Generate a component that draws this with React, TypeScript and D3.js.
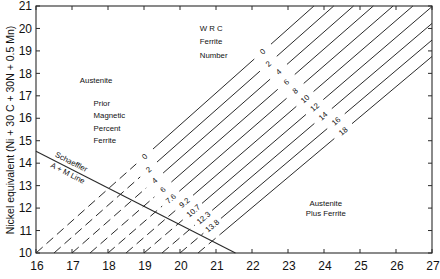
import React from "react";
import * as d3 from "d3";

// ---- data ----
const xTicks = [16, 17, 18, 19, 20, 21, 22, 23, 24, 25, 26, 27];
const yTicks = [10, 11, 12, 13, 14, 15, 16, 17, 18, 19, 20, 21];
// WRC ferrite number iso-lines
const wrcFN = ["0", "2", "4", "6", "8", "10", "12", "14", "16", "18"];
// prior magnetic percent ferrite labels (lower, dashed part)
const priorPercent = ["0", "2", "4", "6", "7.6", "9.2", "10.7", "12.3", "13.8", ""];
// Cr equivalent where each iso-line meets Ni eq = 10 and Ni eq = 21
const crAtNi10 = [16, 16.5, 17, 17.5, 18, 18.5, 19, 19.5, 20, 20.5];
const crAtNi21 = [23.72, 24.27, 24.82, 25.37, 25.92, 26.47, 27.02, 27.57, 28.12, 28.67];
// Ni eq at which the labels sit on each line
const upperLabelNi = [18.97, 18.43, 18.07, 17.62, 17.22, 16.86, 16.5, 16.1, 15.87, 15.43];
const lowerLabelNi = [14.3, 13.72, 13.23, 12.83, 12.42, 12.24, 11.88, 11.57, 11.21, 10.85];
// Schaeffler A + M line
const schaefflerCr = [16, 21.54];
const schaefflerNi = [14.53, 10];
// region captions
const leftCaption = ["Prior", "Magnetic", "Percent", "Ferrite"];
const wrcCaption = ["W R C", "Ferrite", "Number"];
const rightCaption = ["Austenite", "Plus Ferrite"];

const W = 440;
const H = 279;
const FONT = "'Liberation Sans', Arial, Helvetica, sans-serif";

export default function App() {
  const x = d3.scaleLinear().domain([16, 27]).range([36, 432]);
  const y = d3.scaleLinear().domain([10, 21]).range([253, 6]);
  const line = d3
    .line<[number, number]>()
    .x((d) => x(d[0]))
    .y((d) => y(d[1]));

  const ink = "#2a2a2a";
  const gapNi = 0.33;

  const isoLines = wrcFN.map((fn, i) => {
    const c0 = crAtNi10[i];
    const c1 = crAtNi21[i];
    const crOf = (ni: number) => c0 + ((ni - 10) * (c1 - c0)) / 11;
    const niOf = (cr: number) => 10 + ((cr - c0) * 11) / (c1 - c0);
    const endNi = c1 > 27 ? niOf(27) : 21;
    const lo = lowerLabelNi[i];
    const up = upperLabelNi[i];
    const hasLow = priorPercent[i] !== "";
    const lg = hasLow ? gapNi : 0;
    const dashed: [number, number][] = [
      [crOf(10), 10],
      [crOf(lo - lg), lo - lg],
    ];
    const solid1: [number, number][] = [
      [crOf(lo + lg), lo + lg],
      [crOf(up - gapNi), up - gapNi],
    ];
    const solid2: [number, number][] = [
      [crOf(up + gapNi), up + gapNi],
      [crOf(endNi), endNi],
    ];
    const angle = (Math.atan2(y(21) - y(10), x(c1) - x(c0)) * 180) / Math.PI;
    return {
      fn,
      pct: priorPercent[i],
      dashed,
      solid1,
      solid2,
      upPos: [x(crOf(up)), y(up)],
      loPos: [x(crOf(lo)), y(lo)],
      angle,
    };
  });

  const schPts: [number, number][] = schaefflerCr.map((c, i) => [c, schaefflerNi[i]]);
  const schAngle =
    (Math.atan2(y(schaefflerNi[1]) - y(schaefflerNi[0]), x(schaefflerCr[1]) - x(schaefflerCr[0])) * 180) /
    Math.PI;

  const x0 = x(16), x1 = x(27), y0 = y(10), y1 = y(21);
  const tl = 4;
  const small = 7.8;

  return (
    <svg
      width={W}
      height={H}
      style={{ position: "absolute", left: 0, top: 0, background: "#fff" }}
      fontFamily={FONT}
    >
      <rect x={0} y={0} width={W} height={H} fill="#fff" />
      {/* frame */}
      <rect x={x0} y={y1} width={x1 - x0} height={y0 - y1} fill="none" stroke={ink} strokeWidth={1.1} />
      {/* ticks */}
      {xTicks.map((t) => (
        <g key={"xt" + t}>
          <line x1={x(t)} x2={x(t)} y1={y0} y2={y0 - tl} stroke={ink} />
          <line x1={x(t)} x2={x(t)} y1={y1} y2={y1 + tl} stroke={ink} />
          <text x={x(t) + 1} y={y0 + 17} textAnchor="middle" fontSize={12} fill="#111">
            {t}
          </text>
        </g>
      ))}
      {yTicks.map((t) => (
        <g key={"yt" + t}>
          <line x1={x0} x2={x0 + tl} y1={y(t)} y2={y(t)} stroke={ink} />
          <line x1={x1} x2={x1 - tl} y1={y(t)} y2={y(t)} stroke={ink} />
          <text x={x0 - 4} y={y(t)} dy="0.35em" textAnchor="end" fontSize={12} fill="#111">
            {t}
          </text>
        </g>
      ))}
      <text
        transform={`translate(10,130) rotate(-90)`}
        textAnchor="middle"
        dy="0.35em"
        fontSize={10.5}
        fill="#111"
      >
        Nickel equivalent (Ni + 30 C + 30N + 0.5 Mn)
      </text>

      {/* iso-ferrite lines */}
      {isoLines.map((l, i) => (
        <g key={"iso" + i}>
          <path d={line(l.dashed) || ""} fill="none" stroke={ink} strokeWidth={1} strokeDasharray="9,5" />
          <path d={line(l.solid1) || ""} fill="none" stroke={ink} strokeWidth={1} />
          <path d={line(l.solid2) || ""} fill="none" stroke={ink} strokeWidth={1} />
          <text
            transform={`translate(${l.upPos[0]},${l.upPos[1]}) rotate(${l.angle})`}
            textAnchor="middle"
            dy="0.35em"
            fontSize={small}
            fill="#111"
          >
            {l.fn}
          </text>
          {l.pct !== "" && (
            <text
              transform={`translate(${l.loPos[0]},${l.loPos[1]}) rotate(${l.angle})`}
              textAnchor="middle"
              dy="0.35em"
              fontSize={small}
              fill="#111"
            >
              {l.pct}
            </text>
          )}
        </g>
      ))}

      {/* Schaeffler line */}
      <path d={line(schPts) || ""} fill="none" stroke={ink} strokeWidth={1.1} />
      <text
        transform={`translate(${x(16.95)},${y(13.95)}) rotate(${schAngle})`}
        textAnchor="middle"
        fontSize={small}
        fill="#111"
      >
        Schaeffler
      </text>
      <text
        transform={`translate(${x(16.85)},${y(13.45)}) rotate(${schAngle})`}
        textAnchor="middle"
        fontSize={small}
        fill="#111"
      >
        A + M Line
      </text>

      {/* region labels */}
      <text x={x(17.67)} y={y(17.7)} textAnchor="middle" dy="0.35em" fontSize={small} fill="#111">
        Austenite
      </text>
      {leftCaption.map((s, i) => (
        <text key={s} x={x(17.6)} y={y(16.68 - i * 0.56)} dy="0.35em" fontSize={small} fill="#111">
          {s}
        </text>
      ))}
      {wrcCaption.map((s, i) => (
        <text key={s} x={x(20.55)} y={y(20.02 - i * 0.6)} dy="0.35em" fontSize={small} fill="#111">
          {s}
        </text>
      ))}
      {rightCaption.map((s, i) => (
        <text key={s} x={x(24.05)} y={y(12.23 - i * 0.45)} textAnchor="middle" dy="0.35em" fontSize={small} fill="#111">
          {s}
        </text>
      ))}
    </svg>
  );
}
